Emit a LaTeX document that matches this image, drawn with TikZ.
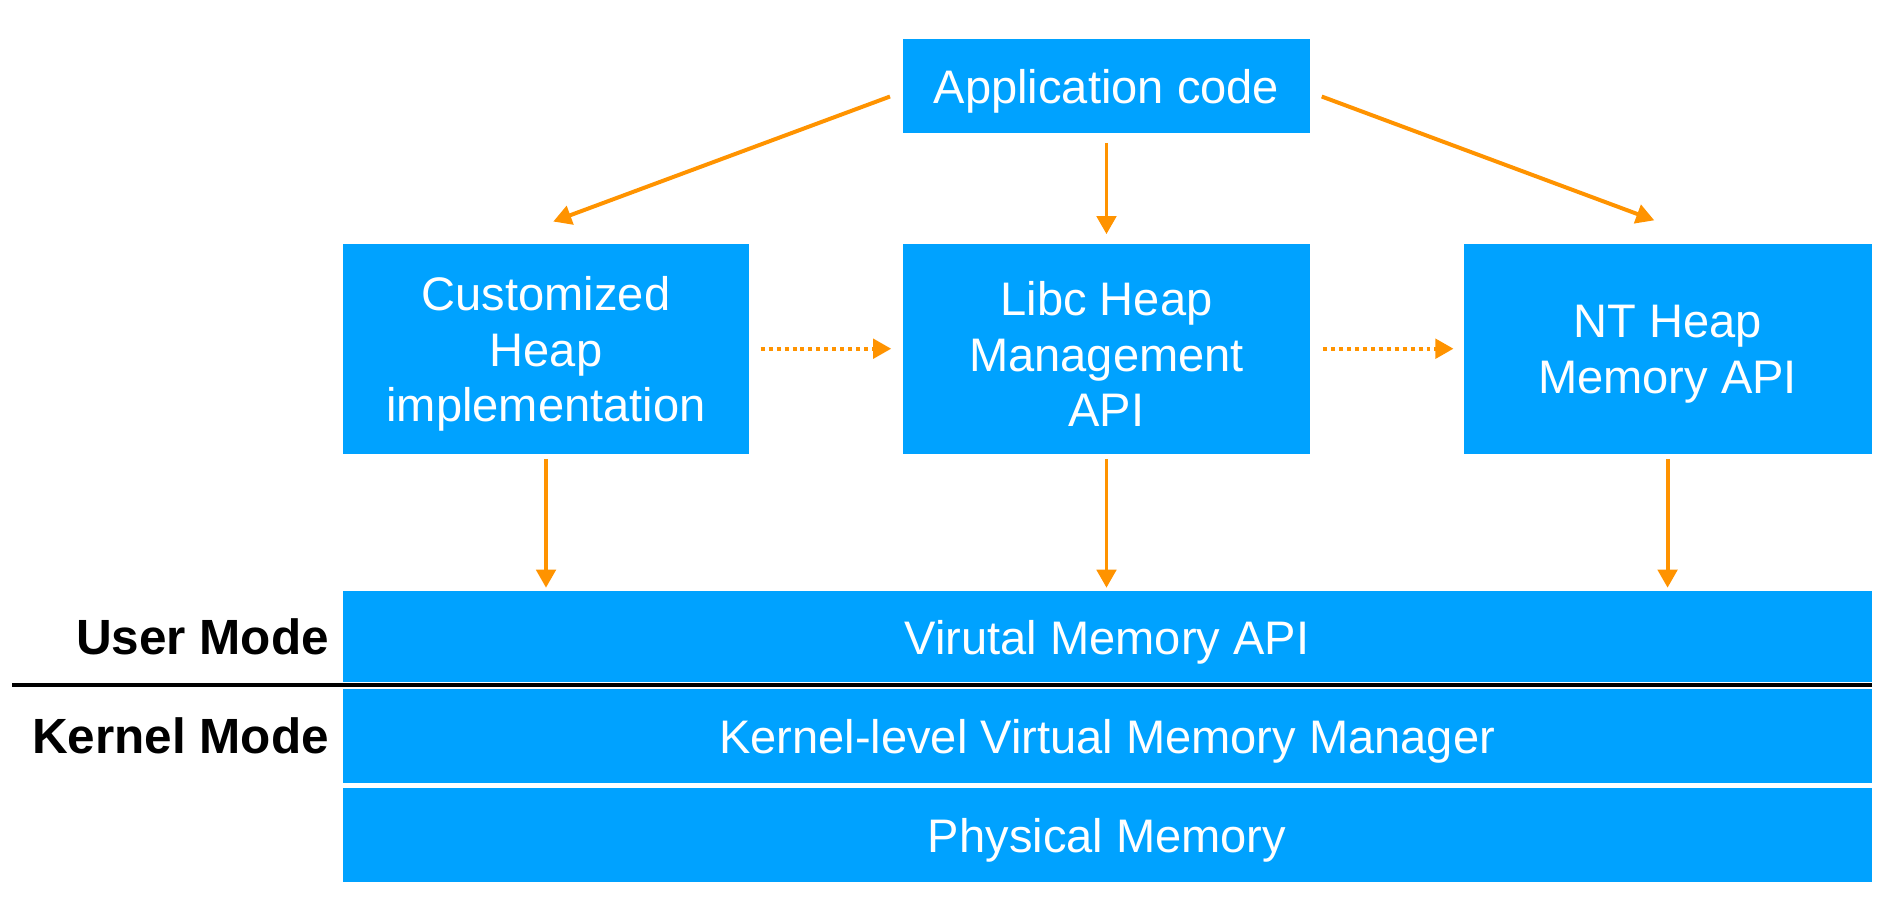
\documentclass[tikz,border=0pt]{standalone}
\usepackage{fontspec}
\setmainfont{Liberation Sans}
\usetikzlibrary{arrows.meta}
\definecolor{boxblue}{RGB}{0,162,255}
\definecolor{arrorange}{RGB}{255,147,0}
\begin{document}
\begin{tikzpicture}[x=0.5pt,y=-0.5pt,
  blk/.style={fill=boxblue,draw=none,inner sep=0pt},
  txt/.style={text=white,align=center,inner sep=0pt,yshift=-2.3pt,font=\fontsize{19.5}{23}\selectfont},
  bar/.style={blk,minimum width=633.5pt,minimum height=39pt},
  arr/.style={draw=arrorange,line width=1.65pt,-{Triangle[length=7.5pt,width=8pt]}},
  dotarr/.style={arr,dash pattern=on 1.65pt off 1.65pt},
  lab/.style={font=\bfseries\fontsize{20.5}{24}\selectfont,anchor=east,inner sep=0pt}]
\useasboundingbox (0,0) rectangle (1568,752.5);
\node[blk,minimum width=169pt,minimum height=39pt,label={[txt]center:{Application code}}] (app) at (917,71) {};
\node[blk,minimum width=168.5pt,minimum height=87pt,label={[txt]center:{Customized\\Heap\\implementation}}] (cust) at (452.5,289) {};
\node[blk,minimum width=169pt,minimum height=87pt,label={[txt]center:{Libc Heap\\Management\\API}}] (libc) at (917,289) {};
\node[blk,minimum width=169pt,minimum height=87pt,label={[txt]center:{NT Heap\\Memory API}}] (nt) at (1382,289) {};
\node[bar,minimum height=37.5pt,label={[txt]center:{Virutal Memory API}}] (vm) at (917.5,527.5) {};
\node[bar,label={[txt]center:{Kernel-level Virtual Memory Manager}}] (kern) at (917.5,610) {};
\node[bar,label={[txt]center:{Physical Memory}}] (phys) at (917.5,692) {};
\node[lab] (user) at (273,528) {User Mode};
\node[lab] (kmode) at (273,610) {Kernel Mode};
\coordinate (sepL) at (10,567.5);
\draw[line width=1.6pt] (sepL) -- (sepL -| vm.east);
\draw[arr] ([shift={(-10,9)}]app.west) -- ([shift={(6,-18)}]cust.north);
\draw[arr] ([shift={(0,8)}]app.south) -- ([shift={(0,-7.5)}]libc.north);
\draw[arr] ([shift={(9,9)}]app.east) -- ([shift={(-11,-19)}]nt.north);
\draw[dotarr] ([shift={(9,0)}]cust.east) -- ([shift={(-9,0)}]libc.west);
\draw[dotarr] ([shift={(10,0)}]libc.east) -- ([shift={(-8,0)}]nt.west);
\draw[arr] ([shift={(0,4)}]cust.south) -- ([shift={(0,-2.5)}]cust.south |- vm.north);
\draw[arr] ([shift={(0,4)}]libc.south) -- ([shift={(0,-2.5)}]libc.south |- vm.north);
\draw[arr] ([shift={(0,4)}]nt.south) -- ([shift={(0,-2.5)}]nt.south |- vm.north);
\end{tikzpicture}
\end{document}
